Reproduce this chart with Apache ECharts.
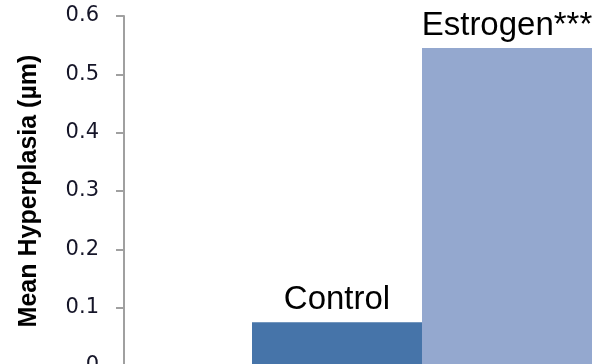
<!DOCTYPE html>
<html>
<head>
<meta charset="utf-8">
<script src="https://cdn.jsdelivr.net/npm/echarts@6/dist/echarts.min.js"></script>
<style>
html, body { margin: 0; padding: 0; background: #fff; }
#main { width: 611px; height: 364px; }
</style>
</head>
<body>
<div id="main"></div>
<script>
// 数据
var groups = ['Control', 'Estrogen'];
var labels = ['Control', 'Estrogen***'];
var values = [0.075, 0.545];
var colors = ['#4674a9', '#94a8cf'];
var yTicks = [0, 0.1, 0.2, 0.3, 0.4, 0.5, 0.6];

var chart = echarts.init(document.getElementById('main'));

var series = [];
for (var i = 0; i < groups.length; i++) {
    series.push({
        name: groups[i],
        type: 'bar',
        barWidth: 170,
        barGap: '0%',
        itemStyle: { color: colors[i] },
        label: {
            show: true,
            position: 'top',
            distance: 6,
            formatter: labels[i],
            color: '#000',
            fontFamily: 'Liberation Sans, Arial, sans-serif',
            fontSize: 33
        },
        data: [values[i]]
    });
}

chart.setOption({
    animation: false,
    grid: {
        left: 124,
        top: 16,
        width: 596,
        height: 350,
        containLabel: false,
        outerBoundsMode: 'none'
    },
    xAxis: [{
        type: 'category',
        data: [''],
        axisLine: { show: false },
        axisTick: { show: false },
        axisLabel: { show: false }
    }],
    yAxis: [{
        type: 'value',
        min: yTicks[0],
        max: yTicks[yTicks.length - 1],
        interval: 0.1,
        name: 'Mean Hyperplasia (µm)',
        nameLocation: 'middle',
        nameGap: 82,
        nameTextStyle: {
            fontFamily: 'Liberation Sans, Arial, sans-serif',
            fontWeight: 'bold',
            fontSize: 25,
            color: '#000'
        },
        axisLine: { show: true, lineStyle: { color: '#a0a0a0', width: 2 } },
        axisTick: { show: true, length: 8, lineStyle: { color: '#a0a0a0', width: 2 } },
        axisLabel: {
            margin: 25,
            fontFamily: 'DejaVu Sans, sans-serif',
            fontSize: 21,
            color: '#151528',
            formatter: function (v) { return v === 0 ? '0' : v.toFixed(1); }
        },
        splitLine: { show: false }
    }],
    series: series
});
</script>
</body>
</html>
